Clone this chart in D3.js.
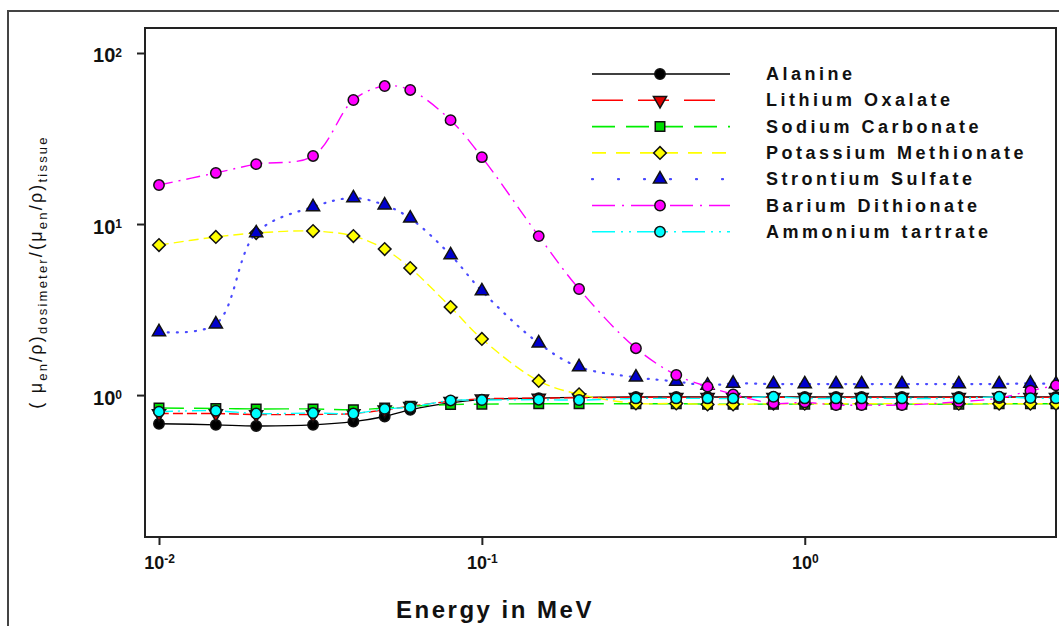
<!DOCTYPE html>
<html>
<head>
<meta charset="utf-8">
<script src="https://cdn.jsdelivr.net/npm/d3@7"></script>
<style>
  body { margin: 0; background: #fff; }
  text { font-family: "Liberation Sans", Arial, sans-serif; }
</style>
</head>
<body>
<div id="chart"></div>
<script>
// photon energies (MeV)
var energies = [0.01, 0.015, 0.02, 0.03, 0.04, 0.05, 0.06, 0.08, 0.1, 0.15, 0.2, 0.3,
                0.4, 0.5, 0.6, 0.8, 1, 1.25, 1.5, 2, 3, 4, 5, 6];

var names = ["Alanine", "Lithium Oxalate", "Sodium Carbonate", "Potassium Methionate",
             "Strontium Sulfate", "Barium Dithionate", "Ammonium tartrate"];

var alanine   = [0.68, 0.67, 0.66, 0.67, 0.70, 0.75, 0.82, 0.90, 0.94, 0.96, 0.97, 0.975,
                 0.975, 0.975, 0.975, 0.975, 0.975, 0.975, 0.975, 0.975, 0.975, 0.975, 0.975, 0.975];
var lithium   = [0.78, 0.78, 0.77, 0.77, 0.78, 0.82, 0.86, 0.92, 0.95, 0.96, 0.965, 0.97,
                 0.97, 0.97, 0.97, 0.97, 0.97, 0.97, 0.97, 0.97, 0.97, 0.97, 0.97, 0.97];
var sodium    = [0.84, 0.835, 0.83, 0.83, 0.82, 0.84, 0.86, 0.88, 0.885, 0.89, 0.89, 0.89,
                 0.89, 0.885, 0.885, 0.885, 0.885, 0.885, 0.885, 0.885, 0.885, 0.89, 0.89, 0.89];
var potassium = [7.54, 8.40, 8.86, 9.10, 8.51, 7.14, 5.53, 3.27, 2.13, 1.21, 1.01, 0.894,
                 0.894, 0.882, 0.882, 0.89, 0.89, 0.89, 0.89, 0.89, 0.89, 0.89, 0.89, 0.89];
var strontium = [2.34, 2.60, 8.86, 12.6, 14.2, 12.9, 10.8, 6.59, 4.06, 2.01, 1.46, 1.27,
                 1.20, 1.14, 1.17, 1.16, 1.16, 1.16, 1.16, 1.16, 1.16, 1.16, 1.17, 1.16];
var barium    = [16.9, 19.9, 22.4, 25.0, 53.1, 64.1, 60.8, 40.5, 24.6, 8.5, 4.17, 1.88,
                 1.31, 1.12, 1.01, 0.894, 0.906, 0.874, 0.874, 0.874, 0.914, 0.96, 1.06, 1.14];
var ammonium  = [0.80, 0.81, 0.78, 0.785, 0.78, 0.83, 0.85, 0.93, 0.935, 0.94, 0.935, 0.956,
                 0.956, 0.956, 0.956, 0.977, 0.956, 0.956, 0.956, 0.956, 0.956, 0.977, 0.96, 0.956];

var yTicks = [1, 10, 100];
var xTicks = [0.01, 0.1, 1];

// styles per series
var lineColors   = ["#000000", "#ff0000", "#00ee00", "#ffff00", "#4a4aff", "#ff00ff", "#00ffff"];
var markerColors = ["#000000", "#dd0000", "#00dd00", "#ffff00", "#0000cc", "#ff00ff", "#00ffff"];
var plotDash   = [null, "10,4", "25,10", "10,5", "1,8", "14,6,2,6", "14,5,2,5,2,5"];
var legendDash = [null, "31,15", "23,11", "14,10", "1,25", "23,7,2,7", "23,6,2,6,2,6"];
var symbols = ["circle", "triDown", "square", "diamond", "triUp", "circle", "circle"];

var seriesValues = [alanine, lithium, sodium, potassium, strontium, barium, ammonium];

var W = 1059, H = 626;
var plotL = 145, plotR = 1056, plotT = 28, plotB = 537;

var svg = d3.select("#chart").append("svg")
	.attr("width", W)
	.attr("height", H);

// outer frame
svg.append("rect")
	.attr("x", 8).attr("y", 11)
	.attr("width", W + 20).attr("height", H + 20)
	.attr("fill", "none").attr("stroke", "#444").attr("stroke-width", 2);

var x = d3.scaleLog().domain([0.00905, 6]).range([plotL, plotR]);
var y = d3.scaleLog().domain([0.148, 140]).range([plotB, plotT]);

// plot frame
svg.append("rect")
	.attr("x", plotL).attr("y", plotT)
	.attr("width", plotR - plotL).attr("height", plotB - plotT)
	.attr("fill", "none").attr("stroke", "#222").attr("stroke-width", 2);

function powLabel(sel) {
	sel.each(function(d) {
		var t = d3.select(this).text("");
		var e = Math.round(Math.log10(d));
		t.append("tspan").text("10");
		t.append("tspan").attr("dy", "-0.45em").attr("font-size", "12px").text(e);
	});
}

var gX = svg.append("g")
	.attr("transform", "translate(0," + plotB + ")")
	.call(d3.axisBottom(x).tickValues(xTicks).tickSize(8).tickPadding(11));
gX.select(".domain").remove();
gX.selectAll("line").attr("stroke", "#222").attr("stroke-width", 2);
gX.selectAll("text")
	.attr("font-size", "18px").attr("font-weight", "bold").attr("fill", "#111")
	.call(powLabel);

var gY = svg.append("g")
	.attr("transform", "translate(" + plotL + ",0)")
	.call(d3.axisLeft(y).tickValues(yTicks).tickSize(8).tickPadding(15));
gY.select(".domain").remove();
gY.selectAll("line").attr("stroke", "#222").attr("stroke-width", 2);
gY.selectAll("text")
	.attr("font-size", "20px").attr("font-weight", "bold").attr("fill", "#111")
	.attr("dy", "0.45em")
	.call(powLabel);

// axis titles
svg.append("text")
	.attr("x", 495).attr("y", 618)
	.attr("text-anchor", "middle")
	.attr("font-size", "24px").attr("font-weight", "bold")
	.attr("letter-spacing", "2.5px").attr("fill", "#111")
	.text("Energy in MeV");

var yt = svg.append("text")
	.attr("transform", "translate(42,272) rotate(-90)")
	.attr("text-anchor", "middle")
	.attr("font-size", "18px").attr("letter-spacing", "2.2px").attr("fill", "#111");
function sub(txt) { yt.append("tspan").attr("dy", "5").attr("font-size", "13px").text(txt); }
function main(txt) { yt.append("tspan").attr("dy", "-5").text(txt); }
yt.append("tspan").text("( \u03bc");
sub("en"); main("/\u03c1)"); sub("dosimeter"); main("/(\u03bc"); sub("en"); main("/\u03c1)"); sub("tissue");

// marker path generator
function markerPath(kind) {
	if (kind === "circle") return d3.symbol().type(d3.symbolCircle).size(85)();
	if (kind === "square") return d3.symbol().type(d3.symbolSquare).size(90)();
	if (kind === "diamond") return d3.symbol().type(d3.symbolSquare).size(80)();
	return d3.symbol().type(d3.symbolTriangle).size(75)();
}
function markerRot(kind) {
	if (kind === "diamond") return " rotate(45)";
	if (kind === "triDown") return " rotate(180)";
	return "";
}

var line = d3.line()
	.x(function(d, i) { return x(energies[i]); })
	.y(function(d) { return y(d); })
	.curve(d3.curveCatmullRom.alpha(0.5));

var series = svg.selectAll(".series")
	.data(seriesValues)
	.enter()
	.append("g")
	.attr("class", "series");

series.append("path")
	.attr("d", function(d) { return line(d); })
	.attr("fill", "none")
	.attr("stroke", function(d, i) { return lineColors[i]; })
	.attr("stroke-width", function(d, i) { return i === 4 ? 2.2 : 1.4; })
	.attr("stroke-linecap", function(d, i) { return i === 4 ? "round" : "butt"; })
	.attr("stroke-dasharray", function(d, i) { return plotDash[i]; });

series.each(function(vals, si) {
	d3.select(this).selectAll("path.symbol")
		.data(vals)
		.enter()
		.append("path")
		.attr("class", "symbol")
		.attr("d", markerPath(symbols[si]))
		.attr("transform", function(d, i) {
			return "translate(" + x(energies[i]) + "," + y(d) + ")" + markerRot(symbols[si]);
		})
		.attr("fill", markerColors[si])
		.attr("stroke", "#111")
		.attr("stroke-width", 1.5);
});

// legend
var legend = svg.append("g").attr("transform", "translate(592,74)");
var rows = legend.selectAll(".row")
	.data(names)
	.enter()
	.append("g")
	.attr("transform", function(d, i) { return "translate(0," + (i * 26.3) + ")"; });

rows.append("line")
	.attr("x1", 0).attr("x2", 138)
	.attr("stroke", function(d, i) { return lineColors[i]; })
	.attr("stroke-width", function(d, i) { return i === 4 ? 2.2 : 1.6; })
	.attr("stroke-linecap", function(d, i) { return i === 4 ? "round" : "butt"; })
	.attr("stroke-dasharray", function(d, i) { return legendDash[i]; });

rows.append("path")
	.attr("d", function(d, i) { return markerPath(symbols[i]); })
	.attr("transform", function(d, i) { return "translate(68,0)" + markerRot(symbols[i]); })
	.attr("fill", function(d, i) { return markerColors[i]; })
	.attr("stroke", "#111")
	.attr("stroke-width", 1.5);

rows.append("text")
	.attr("x", 174).attr("y", 6)
	.attr("font-size", "18px").attr("font-weight", "bold")
	.attr("letter-spacing", "3.5px").attr("fill", "#111")
	.text(function(d) { return d; });
</script>
</body>
</html>
